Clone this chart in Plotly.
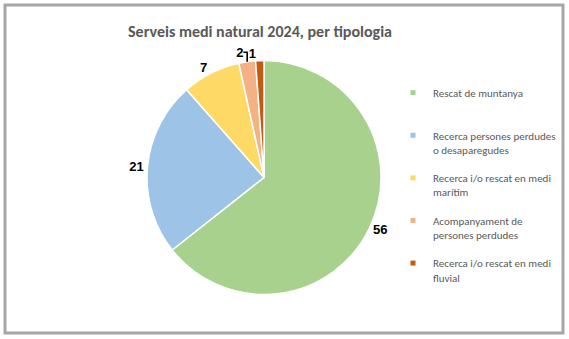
import plotly.graph_objects as go

W, H = 569, 339

title_text = "Serveis medi natural 2024, per tipologia"
categories = [
    "Rescat de muntanya",
    "Recerca persones perdudes<br>o desaparegudes",
    "Recerca i/o rescat en medi<br>marítim",
    "Acompanyament de<br>persones perdudes",
    "Recerca i/o rescat en medi<br>fluvial",
]
values = [56, 21, 7, 2, 1]
colors = ["#A9D18E", "#9DC3E6", "#FFD966", "#F4B183", "#C55A11"]

pie_domain = dict(x=[147 / W, 381 / W], y=[1 - 295 / H, 1 - 60 / H])
label_font = dict(family="Liberation Sans, Arial, sans-serif", size=13, color="#000000")

fig = go.Figure()

# main pie with labels for all slices but the last
fig.add_trace(go.Pie(
    labels=categories,
    values=values,
    sort=False,
    direction="clockwise",
    rotation=0,
    marker=dict(colors=colors, line=dict(color="white", width=1.5)),
    texttemplate="<b>%{value}</b>",
    textposition=["outside"] * (len(values) - 1) + ["none"],
    textfont=label_font,
    showlegend=False,
    hoverinfo="label+value",
    domain=pie_domain,
))

# transparent overlay of the same pie carrying only the last slice's label
fig.add_trace(go.Pie(
    labels=categories,
    values=values,
    sort=False,
    direction="clockwise",
    rotation=0,
    marker=dict(colors=["rgba(0,0,0,0)"] * len(values), line=dict(width=0)),
    texttemplate="<b>%{value}</b>",
    textposition=["none"] * (len(values) - 1) + ["outside"],
    textfont=label_font,
    showlegend=False,
    hoverinfo="skip",
    domain=pie_domain,
))

# legend entries (small square keys like the original)
for i, (lab, col) in enumerate(zip(categories, colors)):
    name = lab if "<br>" in lab else lab + "<br> "
    fig.add_trace(go.Scatter(
        x=[None], y=[None], mode="markers",
        marker=dict(symbol="square", size=5, color=col),
        name=name, legendgroup=f"g{i}", showlegend=True,
    ))

fig.update_layout(
    width=W, height=H,
    margin=dict(l=0, r=0, t=0, b=0),
    paper_bgcolor="white", plot_bgcolor="white",
    xaxis=dict(visible=False), yaxis=dict(visible=False),
    title=dict(
        text=f"<b>{title_text}</b>",
        x=260 / W, xanchor="center", xref="paper",
        y=1 - 31 / H, yanchor="middle", yref="paper",
        font=dict(family="Carlito, Lato, sans-serif", size=16, color="#595959"),
    ),
    legend=dict(
        x=393 / W, xanchor="left", y=1 - 79 / H, yanchor="top",
        traceorder="grouped", tracegroupgap=11, valign="top",
        font=dict(family="Carlito, Lato, sans-serif", size=11, color="#595959"),
        bgcolor="rgba(0,0,0,0)", itemwidth=30,
    ),
    shapes=[dict(
        type="rect", xref="paper", yref="paper",
        x0=5 / W, x1=563 / W, y0=1 - 333 / H, y1=1 - 5 / H,
        line=dict(color="#A6A6A6", width=3), fillcolor="rgba(0,0,0,0)",
    )],
)

fig.write_html("out.html")
